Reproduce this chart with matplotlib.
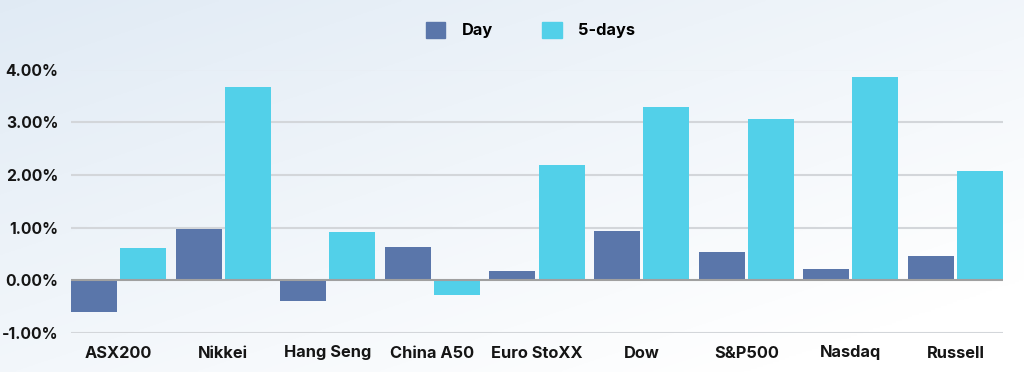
import matplotlib
matplotlib.use("Agg")
import matplotlib.pyplot as plt
import numpy as np
from matplotlib.patches import Patch

categories = ["ASX200", "Nikkei", "Hang Seng", "China A50", "Euro StoXX", "Dow", "S&P500", "Nasdaq", "Russell"]
day = [-0.60, 0.98, -0.39, 0.64, 0.18, 0.93, 0.53, 0.22, 0.47]
five_days = [0.62, 3.66, 0.91, -0.27, 2.19, 3.28, 3.07, 3.85, 2.08]
yticks = [-1, 0, 1, 2, 3, 4]
ytick_labels = ["-1.00%", "0.00%", "1.00%", "2.00%", "3.00%", "4.00%"]

c_day = "#5a76aa"
c_five = "#52d0e9"

plt.rcParams['font.family'] = ['Inter', 'DejaVu Sans']

fig = plt.figure(figsize=(10.24, 3.72), dpi=100)
# background gradient
bg = fig.add_axes([0, 0, 1, 1], zorder=-10)
h, w = 200, 500
yy, xx = np.mgrid[0:1:h*1j, 0:1:w*1j]
t = np.clip(0.55 * (1 - xx) + 0.6 * (1 - yy) - 0.15, 0, 1)
white = np.array([1.0, 1.0, 1.0])
blue = np.array([0.88, 0.92, 0.96])
img = white[None, None, :] * (1 - t[..., None]) + blue[None, None, :] * t[..., None]
bg.imshow(img, aspect='auto', extent=[0, 1, 0, 1], origin='upper')
bg.axis('off')

ax = fig.add_axes([71/1024, 1 - 333/372, (1003-71)/1024, (333-69.5)/372])
ax.set_facecolor('none')
x = np.arange(len(categories))
bw = 0.44
off = 0.235
ax.bar(x - off, day, bw, color=c_day, zorder=3)
ax.bar(x + off, five_days, bw, color=c_five, zorder=3)

ax.set_xlim(-0.455, 8.455)
ax.set_ylim(-1, 4)
ax.set_yticks(yticks)
ax.set_yticklabels(ytick_labels, fontsize=11.3, fontweight='bold', color='#151515')
ax.set_xticks(x)
ax.set_xticklabels(categories, fontsize=11.8, fontweight='bold', color='#151515')
ax.tick_params(axis='both', length=0)
ax.tick_params(axis='y', pad=9)
ax.tick_params(axis='x', pad=9)
for v in yticks:
    ax.axhline(v, color='#d3d6da' if v != 0 else '#a0a0a0', lw=1.5, zorder=1 if v != 0 else 4)
for s in ax.spines.values():
    s.set_visible(False)

handles = [Patch(color=c_day, label="Day"), Patch(color=c_five, label="5-days")]
leg = fig.legend(handles=handles, loc='center', bbox_to_anchor=(0.518, 1 - 30/372), ncol=2,
                 frameon=False, prop={'weight': 'bold', 'size': 11.8}, handlelength=1.2,
                 handleheight=1.2, columnspacing=3.0, handletextpad=1.0)

fig.savefig("out.png", dpi=100)
